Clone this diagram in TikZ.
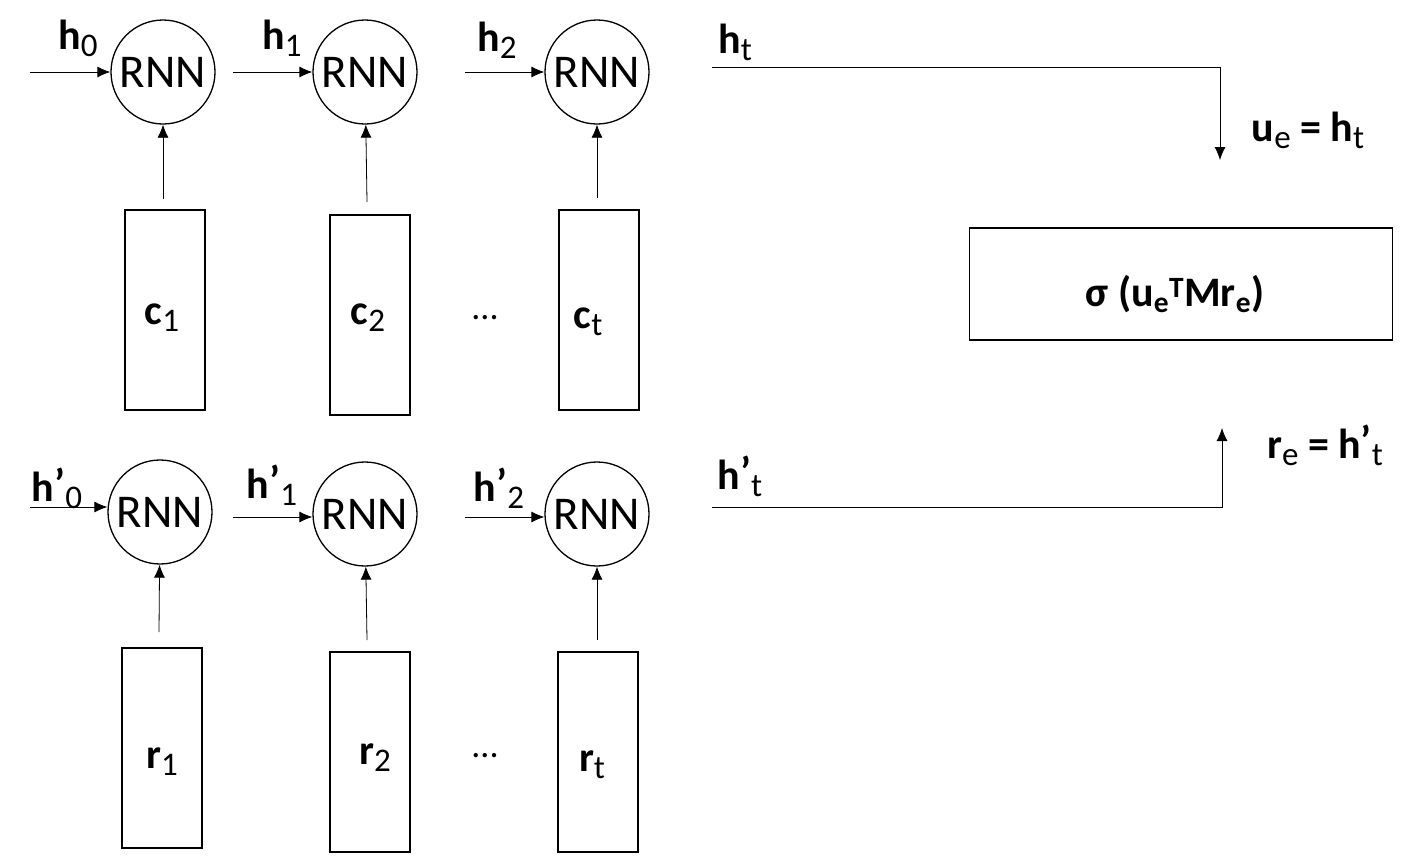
\documentclass[tikz,border=0pt]{standalone}
\usetikzlibrary{arrows.meta}
\usepackage{fontspec}
\setmainfont{Carlito}
\newcommand{\sbs}[1]{\raisebox{-0.35ex}{\fontsize{33}{36}\selectfont\mdseries #1}}
\newcommand{\sps}[1]{\raisebox{0.15ex}{#1}}
\begin{document}
\begin{tikzpicture}[x=1pt,y=-1pt,
  rnn/.style={circle,draw,line width=1.3pt,minimum size=104pt,inner sep=0pt,font=\fontsize{47}{50}\selectfont},
  box/.style={draw,line width=1.3pt,minimum width=80pt,minimum height=200pt,inner sep=0pt},
  lab/.style={font=\fontsize{42}{46}\selectfont\bfseries,inner sep=0pt},
  arr/.style={-{Latex[length=13pt,width=11pt]},line width=0.8pt}]
\useasboundingbox (0,0) rectangle (1410,865);
% top row
\node[rnn] (a1) at (163,72) {RNN};
\node[rnn] (a2) at (365,72) {RNN};
\node[rnn] (a3) at (597,72) {RNN};
\node[box] (c1) at (165,310) {};
\node[box] (c2) at (370,315) {};
\node[box] (c3) at (599,310) {};
\node[lab] at (162,318) {c\sbs{1}};
\node[lab] at (368,318) {c\sbs{2}};
\node[lab] at (588,322) {c\sbs{t}};
\node[font=\fontsize{36}{38}\selectfont] (d1) at (485,318) {...};
\coordinate (s1) at (30,72); \coordinate (s2) at (233,72); \coordinate (s3) at (465,72);
\draw[arr] (s1) -- (a1); \draw[arr] (s2) -- (a2); \draw[arr] (s3) -- (a3);
\coordinate (u1) at (163,199); \coordinate (u2) at (367,202); \coordinate (u3) at (597,198);
\draw[arr] (u1) -- (a1); \draw[arr] (u2) -- (a2); \draw[arr] (u3) -- (a3);
\node[lab] at (78,38) {h\sbs{0}};
\node[lab] at (282,38) {h\sbs{1}};
\node[lab] at (497,40) {h\sbs{2}};
\node[lab] at (735,42) {h\sbs{t}};
% bottom row
\node[rnn] (b1) at (160,512) {RNN};
\node[rnn] (b2) at (365,514) {RNN};
\node[rnn] (b3) at (597,514) {RNN};
\node[box] (r1) at (162,748) {};
\node[box] (r2) at (370,752) {};
\node[box] (r3) at (598,752) {};
\node[lab] at (162,762) {r\sbs{1}};
\node[lab] at (375,758) {r\sbs{2}};
\node[lab] at (592,765) {r\sbs{t}};
\node[font=\fontsize{36}{38}\selectfont] (d2) at (485,756) {...};
\coordinate (t1) at (30,507); \coordinate (t2) at (233,517); \coordinate (t3) at (465,517);
\draw[arr] (t1) -- (b1.west|-t1); \draw[arr] (t2) -- (b2.west|-t2); \draw[arr] (t3) -- (b3.west|-t3);
\coordinate (v1) at (159,632); \coordinate (v2) at (367,640); \coordinate (v3) at (597,640);
\draw[arr] (v1) -- (b1); \draw[arr] (v2) -- (b2); \draw[arr] (v3) -- (b3);
\node[lab] at (57,488) {h\sps{’}\sbs{0}};
\node[lab] at (272,485) {h\sps{’}\sbs{1}};
\node[lab] at (499,488) {h\sps{’}\sbs{2}};
\node[lab] at (740,476) {h\sps{’}\sbs{t}};
% right part
\node[draw,line width=1.3pt,minimum width=423pt,minimum height=112pt,inner sep=0pt] (sig) at (1181,284) {};
\node[lab] at (1175,294) {σ (u\textsubscript{e}\textsuperscript{T}Mr\textsubscript{e})};
\coordinate (p1) at (712,67); \coordinate (q1) at (1220,160);
\draw[arr] (p1) -| (q1);
\coordinate (p2) at (712,507); \coordinate (q2) at (1222,428);
\draw[arr] (p2) -| (q2);
\node[lab] at (1308,130) {u\sbs{e} = h\sbs{t}};
\node[lab] at (1325,445) {r\sbs{e} = h\sps{’}\sbs{t}};
\end{tikzpicture}
\end{document}
